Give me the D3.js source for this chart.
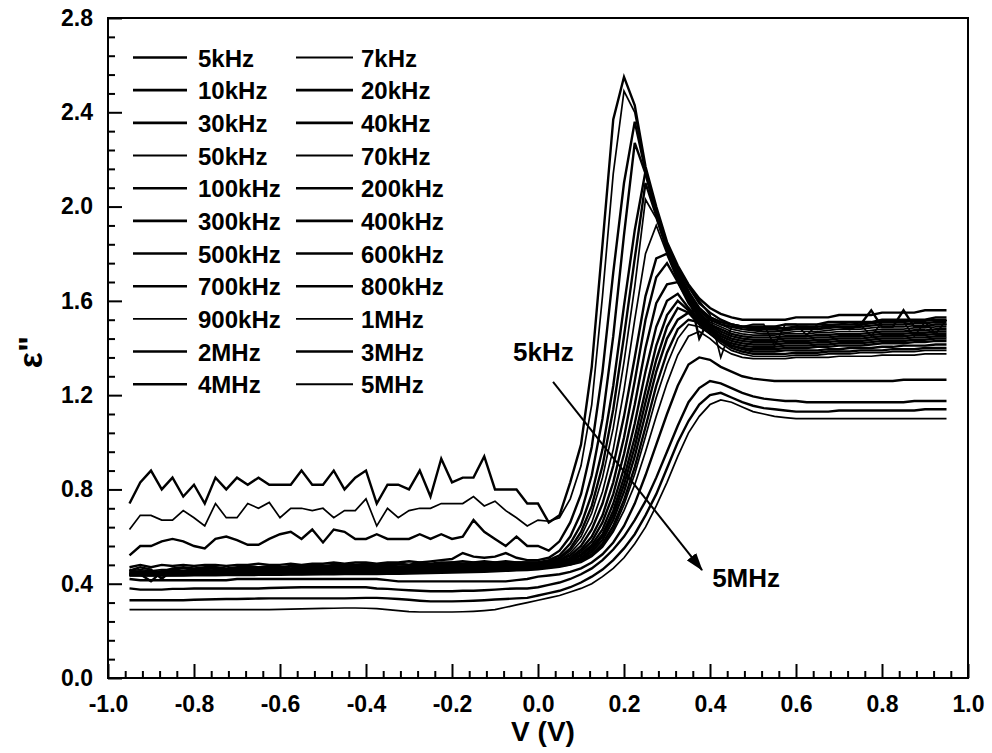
<!DOCTYPE html>
<html>
<head>
<meta charset="utf-8">
<script src="https://cdn.jsdelivr.net/npm/d3@7"></script>
<style>
  body { margin: 0; background: #fff; }
  svg text { font-family: "Liberation Sans", Arial, sans-serif; font-weight: bold; fill: #000; }
</style>
</head>
<body>
<svg id="chart" width="992" height="753"></svg>
<script>
// Bias voltage (V), shared by every frequency curve
const voltage = [-0.95,-0.925,-0.9,-0.875,-0.85,-0.825,-0.8,-0.775,-0.75,-0.725,-0.7,-0.675,-0.65,-0.625,-0.6,-0.575,-0.55,-0.525,-0.5,-0.475,-0.45,-0.425,-0.4,-0.375,-0.35,-0.325,-0.3,-0.275,-0.25,-0.225,-0.2,-0.175,-0.15,-0.125,-0.1,-0.075,-0.05,-0.025,
  0,0.025,0.05,0.075,0.1,0.125,0.15,0.175,0.2,0.225,0.25,0.275,0.3,0.325,0.35,0.375,0.4,0.425,0.45,0.475,0.5,
  0.525,0.55,0.575,0.6,0.625,0.65,0.675,0.7,0.725,0.75,0.775,0.8,0.825,0.85,0.875,0.9,0.925,0.95];

// Dielectric loss ε'' for each measuring frequency
const eps5kHz = [0.74,0.83,0.88,0.80,0.85,0.77,0.82,0.74,0.85,0.80,0.85,0.82,0.85,0.82,0.82,0.82,0.88,0.82,0.82,0.88,0.80,0.85,0.88,0.74,0.82,0.82,0.80,0.88,0.77,0.93,0.83,0.85,0.85,0.94,0.80,0.80,0.80,0.74,
  0.74,0.66,0.69,0.83,0.99,1.32,1.84,2.37,2.55,2.43,2.17,2.00,1.85,1.75,1.67,1.61,1.57,1.545,1.53,1.52,1.52,
  1.52,1.52,1.52,1.53,1.53,1.53,1.53,1.54,1.54,1.54,1.54,1.55,1.55,1.55,1.55,1.56,1.56,1.56];
const eps7kHz = [0.63,0.69,0.69,0.67,0.67,0.71,0.68,0.645,0.74,0.68,0.68,0.74,0.72,0.745,0.68,0.72,0.72,0.71,0.72,0.68,0.71,0.71,0.76,0.645,0.72,0.68,0.71,0.72,0.72,0.74,0.74,0.74,0.77,0.73,0.75,0.71,0.68,0.645,
  0.67,0.665,0.68,0.76,0.90,1.16,1.62,2.14,2.49,2.40,2.16,1.99,1.84,1.74,1.66,1.60,1.54,1.36,1.49,1.49,1.50,
  1.50,1.41,1.50,1.50,1.455,1.50,1.50,1.50,1.51,1.50,1.45,1.51,1.51,1.51,1.45,1.51,1.46,1.52];
const eps10kHz = [0.52,0.56,0.56,0.58,0.59,0.58,0.56,0.55,0.59,0.60,0.585,0.565,0.565,0.59,0.61,0.62,0.59,0.63,0.575,0.63,0.62,0.59,0.59,0.61,0.59,0.59,0.59,0.61,0.59,0.61,0.59,0.60,0.67,0.62,0.59,0.56,0.60,0.56,
  0.56,0.54,0.58,0.66,0.78,0.98,1.30,1.72,2.10,2.36,2.15,1.98,1.84,1.74,1.66,1.59,1.55,1.52,1.50,1.49,1.49,
  1.49,1.49,1.48,1.49,1.49,1.48,1.49,1.49,1.48,1.50,1.56,1.49,1.49,1.56,1.49,1.49,1.50,1.50];
const eps20kHz = [0.47,0.48,0.47,0.48,0.475,0.48,0.475,0.48,0.48,0.475,0.48,0.48,0.485,0.48,0.48,0.485,0.48,0.485,0.485,0.49,0.485,0.49,0.49,0.485,0.49,0.49,0.495,0.49,0.495,0.50,0.505,0.53,0.515,0.51,0.515,0.53,0.51,0.50,
  0.50,0.51,0.54,0.60,0.70,0.86,1.10,1.45,1.88,2.27,2.14,1.97,1.83,1.73,1.64,1.44,1.53,1.51,1.50,1.49,1.49,
  1.49,1.49,1.50,1.50,1.50,1.50,1.51,1.51,1.51,1.51,1.51,1.52,1.52,1.52,1.52,1.52,1.53,1.53];
const eps30kHz = [0.46,0.44,0.41,0.45,0.465,0.47,0.465,0.47,0.47,0.465,0.47,0.475,0.47,0.475,0.47,0.475,0.475,0.48,0.475,0.48,0.48,0.48,0.485,0.48,0.485,0.485,0.48,0.49,0.485,0.49,0.49,0.495,0.49,0.495,0.49,0.495,0.49,0.49,
  0.49,0.50,0.52,0.57,0.65,0.78,0.97,1.24,1.58,1.90,2.15,1.97,1.83,1.72,1.64,1.57,1.53,1.51,1.50,1.49,1.48,
  1.48,1.48,1.485,1.49,1.49,1.49,1.495,1.50,1.50,1.50,1.505,1.51,1.51,1.51,1.515,1.515,1.52,1.52];
const eps40kHz = [0.455,0.47,0.46,0.42,0.46,0.465,0.46,0.465,0.47,0.46,0.465,0.47,0.465,0.47,0.47,0.465,0.47,0.475,0.47,0.475,0.475,0.48,0.475,0.48,0.48,0.485,0.48,0.485,0.48,0.485,0.49,0.485,0.49,0.49,0.49,0.49,0.49,0.49,
  0.49,0.495,0.51,0.55,0.62,0.73,0.90,1.14,1.45,1.78,2.10,1.96,1.82,1.71,1.63,1.56,1.52,1.50,1.49,1.48,1.475,
  1.47,1.47,1.475,1.48,1.48,1.48,1.485,1.49,1.49,1.49,1.495,1.50,1.50,1.50,1.505,1.505,1.51,1.51];
const eps50kHz = [0.455,0.46,0.455,0.46,0.46,0.455,0.46,0.46,0.465,0.46,0.465,0.465,0.46,0.465,0.47,0.465,0.47,0.47,0.47,0.475,0.47,0.475,0.475,0.48,0.475,0.48,0.48,0.48,0.485,0.48,0.485,0.485,0.485,0.485,0.49,0.485,0.49,0.49,
  0.49,0.49,0.505,0.54,0.60,0.70,0.85,1.06,1.34,1.66,2.03,1.95,1.81,1.70,1.62,1.56,1.52,1.50,1.48,1.47,1.465,
  1.46,1.46,1.465,1.47,1.47,1.47,1.475,1.48,1.48,1.48,1.485,1.49,1.49,1.49,1.495,1.495,1.50,1.50];
const eps70kHz = [0.45,0.455,0.45,0.455,0.455,0.455,0.46,0.455,0.46,0.46,0.46,0.46,0.465,0.46,0.465,0.465,0.465,0.465,0.47,0.47,0.47,0.47,0.47,0.475,0.475,0.475,0.475,0.48,0.48,0.48,0.48,0.48,0.485,0.485,0.485,0.485,0.485,0.485,
  0.485,0.49,0.50,0.53,0.58,0.66,0.79,0.97,1.22,1.52,1.80,1.92,1.80,1.70,1.62,1.55,1.51,1.49,1.47,1.46,1.455,
  1.455,1.455,1.46,1.46,1.46,1.465,1.465,1.47,1.47,1.47,1.475,1.48,1.48,1.48,1.485,1.485,1.49,1.49];
const eps100kHz = [0.45,0.45,0.45,0.45,0.455,0.45,0.455,0.455,0.455,0.455,0.46,0.455,0.46,0.46,0.46,0.46,0.465,0.46,0.465,0.465,0.465,0.47,0.465,0.47,0.47,0.47,0.47,0.475,0.475,0.475,0.475,0.48,0.48,0.48,0.48,0.48,0.485,0.485,
  0.485,0.49,0.50,0.52,0.56,0.63,0.74,0.90,1.11,1.36,1.62,1.78,1.80,1.69,1.61,1.55,1.50,1.48,1.46,1.45,1.445,
  1.445,1.445,1.45,1.45,1.45,1.455,1.455,1.46,1.46,1.46,1.465,1.47,1.47,1.47,1.475,1.475,1.48,1.48];
const eps200kHz = [0.445,0.445,0.445,0.45,0.45,0.45,0.45,0.45,0.45,0.455,0.455,0.455,0.455,0.455,0.46,0.46,0.46,0.46,0.46,0.46,0.465,0.465,0.465,0.465,0.465,0.47,0.47,0.47,0.47,0.47,0.475,0.475,0.475,0.475,0.48,0.48,0.48,0.48,
  0.48,0.485,0.495,0.51,0.545,0.60,0.69,0.83,1.02,1.26,1.52,1.70,1.76,1.68,1.60,1.54,1.50,1.47,1.45,1.44,1.435,
  1.435,1.435,1.44,1.44,1.44,1.445,1.445,1.45,1.45,1.45,1.455,1.46,1.46,1.46,1.465,1.465,1.47,1.47];
const eps300kHz = [0.445,0.445,0.445,0.445,0.445,0.445,0.45,0.45,0.45,0.45,0.45,0.45,0.45,0.455,0.455,0.455,0.455,0.455,0.455,0.46,0.46,0.46,0.46,0.46,0.46,0.465,0.465,0.465,0.465,0.465,0.47,0.47,0.47,0.47,0.475,0.475,0.475,0.48,
  0.48,0.485,0.49,0.505,0.535,0.58,0.66,0.78,0.95,1.16,1.40,1.59,1.67,1.68,1.59,1.53,1.49,1.46,1.44,1.43,1.425,
  1.425,1.425,1.43,1.43,1.43,1.435,1.435,1.44,1.44,1.44,1.445,1.45,1.45,1.45,1.455,1.455,1.46,1.46];
const eps400kHz = [0.44,0.44,0.44,0.445,0.445,0.445,0.445,0.445,0.445,0.445,0.45,0.45,0.45,0.45,0.45,0.45,0.45,0.455,0.455,0.455,0.455,0.455,0.455,0.46,0.46,0.46,0.46,0.46,0.46,0.465,0.465,0.465,0.465,0.47,0.47,0.47,0.475,0.475,
  0.475,0.48,0.485,0.50,0.525,0.565,0.63,0.74,0.89,1.08,1.30,1.49,1.60,1.63,1.57,1.52,1.48,1.45,1.43,1.42,1.415,
  1.415,1.415,1.42,1.42,1.42,1.425,1.425,1.43,1.43,1.43,1.435,1.44,1.44,1.44,1.445,1.445,1.45,1.45];
const eps500kHz = [0.44,0.44,0.44,0.44,0.44,0.44,0.44,0.445,0.445,0.445,0.445,0.445,0.445,0.445,0.445,0.45,0.45,0.45,0.45,0.45,0.45,0.45,0.455,0.455,0.455,0.455,0.455,0.455,0.46,0.46,0.46,0.46,0.46,0.465,0.465,0.465,0.47,0.47,
  0.475,0.48,0.485,0.495,0.52,0.555,0.61,0.71,0.85,1.02,1.22,1.41,1.54,1.60,1.56,1.51,1.47,1.44,1.42,1.41,1.405,
  1.405,1.405,1.41,1.41,1.41,1.415,1.415,1.42,1.42,1.42,1.425,1.43,1.43,1.43,1.435,1.435,1.44,1.44];
const eps600kHz = [0.437,0.437,0.437,0.437,0.437,0.437,0.438,0.44,0.44,0.44,0.44,0.442,0.442,0.442,0.443,0.445,0.445,0.445,0.446,0.447,0.447,0.448,0.45,0.45,0.45,0.451,0.452,0.452,0.455,0.455,0.456,0.456,0.458,0.46,0.462,0.463,0.466,0.468,
  0.47,0.475,0.48,0.49,0.51,0.545,0.60,0.69,0.82,0.98,1.17,1.35,1.49,1.57,1.55,1.50,1.46,1.43,1.41,1.40,1.395,
  1.395,1.395,1.40,1.40,1.40,1.405,1.405,1.41,1.41,1.41,1.415,1.42,1.42,1.42,1.425,1.425,1.43,1.43];
const eps700kHz = [0.44,0.44,0.44,0.44,0.44,0.441,0.441,0.442,0.442,0.443,0.443,0.444,0.444,0.445,0.445,0.446,0.446,0.447,0.447,0.448,0.448,0.449,0.449,0.45,0.45,0.451,0.452,0.453,0.454,0.455,0.456,0.457,0.458,0.459,0.461,0.463,0.465,0.467,
  0.47,0.475,0.48,0.49,0.505,0.535,0.585,0.67,0.79,0.94,1.12,1.30,1.44,1.52,1.55,1.53,1.49,1.44,1.41,1.395,1.385,
  1.385,1.385,1.39,1.39,1.39,1.39,1.395,1.395,1.40,1.40,1.40,1.405,1.405,1.41,1.41,1.41,1.415,1.415];
const eps800kHz = [0.437,0.437,0.437,0.437,0.438,0.438,0.438,0.439,0.44,0.44,0.44,0.44,0.441,0.441,0.442,0.442,0.443,0.443,0.444,0.444,0.445,0.445,0.446,0.446,0.447,0.448,0.448,0.449,0.45,0.451,0.452,0.453,0.454,0.455,0.457,0.459,0.461,0.463,
  0.465,0.47,0.475,0.485,0.50,0.525,0.57,0.645,0.755,0.895,1.065,1.24,1.38,1.48,1.52,1.51,1.48,1.43,1.40,1.385,1.375,
  1.375,1.375,1.375,1.38,1.38,1.38,1.385,1.385,1.385,1.39,1.39,1.39,1.395,1.395,1.395,1.40,1.40,1.40];
const eps900kHz = [0.435,0.435,0.435,0.435,0.435,0.436,0.436,0.436,0.437,0.437,0.438,0.438,0.438,0.439,0.439,0.44,0.44,0.44,0.441,0.441,0.442,0.442,0.443,0.443,0.444,0.444,0.445,0.446,0.447,0.448,0.449,0.45,0.451,0.452,0.454,0.456,0.458,0.46,
  0.465,0.47,0.475,0.48,0.495,0.52,0.56,0.63,0.735,0.865,1.025,1.19,1.33,1.44,1.50,1.49,1.46,1.42,1.39,1.375,1.365,
  1.365,1.365,1.365,1.37,1.37,1.37,1.375,1.375,1.375,1.38,1.38,1.38,1.385,1.385,1.385,1.39,1.39,1.39];
const eps1MHz = [0.433,0.433,0.433,0.433,0.433,0.433,0.434,0.434,0.434,0.435,0.435,0.435,0.436,0.436,0.436,0.437,0.437,0.438,0.438,0.438,0.439,0.439,0.44,0.44,0.441,0.441,0.442,0.443,0.444,0.445,0.446,0.447,0.448,0.449,0.451,0.453,0.455,0.457,
  0.46,0.465,0.47,0.48,0.49,0.515,0.555,0.62,0.71,0.82,0.96,1.11,1.25,1.37,1.45,1.47,1.44,1.40,1.375,1.36,1.355,
  1.355,1.355,1.355,1.36,1.36,1.36,1.36,1.365,1.365,1.365,1.365,1.37,1.37,1.37,1.37,1.375,1.375,1.375];
const eps2MHz = [0.42,0.415,0.415,0.415,0.415,0.415,0.415,0.415,0.415,0.415,0.42,0.42,0.42,0.42,0.42,0.42,0.42,0.42,0.42,0.42,0.42,0.42,0.42,0.42,0.415,0.41,0.41,0.41,0.41,0.41,0.41,0.41,0.41,0.41,0.41,0.41,0.415,0.42,
  0.43,0.435,0.44,0.45,0.465,0.49,0.525,0.575,0.645,0.74,0.86,0.99,1.12,1.24,1.33,1.36,1.35,1.32,1.30,1.28,1.27,
  1.265,1.26,1.26,1.26,1.26,1.26,1.26,1.26,1.26,1.26,1.26,1.26,1.26,1.265,1.265,1.265,1.265,1.265];
const eps3MHz = [0.38,0.375,0.375,0.375,0.378,0.378,0.38,0.38,0.38,0.38,0.38,0.38,0.38,0.382,0.383,0.384,0.385,0.385,0.385,0.385,0.385,0.385,0.385,0.38,0.378,0.375,0.372,0.37,0.368,0.368,0.368,0.37,0.37,0.372,0.375,0.378,0.38,0.38,
  0.385,0.395,0.405,0.42,0.44,0.465,0.50,0.545,0.60,0.67,0.75,0.85,0.96,1.07,1.17,1.23,1.26,1.25,1.23,1.21,1.195,
  1.185,1.18,1.175,1.175,1.17,1.17,1.17,1.17,1.17,1.17,1.17,1.17,1.17,1.17,1.175,1.175,1.175,1.175];
const eps4MHz = [0.33,0.33,0.33,0.33,0.33,0.33,0.332,0.333,0.334,0.335,0.335,0.336,0.337,0.338,0.338,0.338,0.338,0.338,0.338,0.338,0.338,0.339,0.34,0.34,0.338,0.335,0.332,0.328,0.325,0.325,0.325,0.326,0.328,0.33,0.333,0.335,0.338,0.34,
  0.35,0.36,0.37,0.385,0.405,0.43,0.46,0.50,0.55,0.61,0.69,0.78,0.89,1.00,1.09,1.16,1.20,1.21,1.19,1.17,1.155,
  1.145,1.14,1.135,1.13,1.13,1.13,1.13,1.135,1.135,1.135,1.135,1.135,1.135,1.135,1.135,1.14,1.14,1.14];
const eps5MHz = [0.29,0.29,0.29,0.29,0.29,0.29,0.29,0.29,0.29,0.29,0.29,0.29,0.29,0.29,0.291,0.292,0.293,0.294,0.295,0.296,0.297,0.297,0.296,0.294,0.29,0.286,0.282,0.28,0.28,0.28,0.28,0.281,0.283,0.286,0.29,0.30,0.31,0.32,
  0.33,0.34,0.35,0.365,0.38,0.40,0.43,0.465,0.51,0.57,0.64,0.73,0.83,0.94,1.04,1.11,1.16,1.18,1.17,1.15,1.13,
  1.12,1.11,1.105,1.10,1.10,1.10,1.10,1.10,1.10,1.10,1.10,1.10,1.10,1.10,1.10,1.10,1.10,1.10];

const frequencyLabels = ["5kHz","7kHz","10kHz","20kHz","30kHz","40kHz","50kHz","70kHz","100kHz","200kHz","300kHz",
  "400kHz","500kHz","600kHz","700kHz","800kHz","900kHz","1MHz","2MHz","3MHz","4MHz","5MHz"];
const thinLabels = ["7kHz","50kHz","70kHz","900kHz","1MHz","5MHz"];
const xTickValues = [-1.0,-0.8,-0.6,-0.4,-0.2,0.0,0.2,0.4,0.6,0.8,1.0];
const yTickValues = [0.0,0.4,0.8,1.2,1.6,2.0,2.4,2.8];

const curves = [eps5kHz,eps7kHz,eps10kHz,eps20kHz,eps30kHz,eps40kHz,eps50kHz,eps70kHz,eps100kHz,eps200kHz,eps300kHz,
  eps400kHz,eps500kHz,eps600kHz,eps700kHz,eps800kHz,eps900kHz,eps1MHz,eps2MHz,eps3MHz,eps4MHz,eps5MHz];
const series = frequencyLabels.map((label, k) => ({
  label,
  values: curves[k],
  width: thinLabels.includes(label) ? 1.7 : 2.4
}));

const svg = d3.select("#chart");
const plot = { left: 108, right: 968, top: 18, bottom: 678 };
const x = d3.scaleLinear().domain([-1, 1]).range([plot.left, plot.right]);
const y = d3.scaleLinear().domain([0, 2.8]).range([plot.bottom, plot.top]);

// curves
const line = d3.line()
  .x((d, i) => x(voltage[i]))
  .y(d => y(d));
svg.append("g")
  .selectAll("path")
  .data(series)
  .join("path")
  .attr("d", d => line(d.values))
  .attr("fill", "none")
  .attr("stroke", "#000")
  .attr("stroke-width", d => d.width)
  .attr("stroke-linejoin", "miter");

// axes with inward ticks
const fmt = d => d.toFixed(1);
const xMinor = d3.range(-1, 1.0001, 0.04).filter(v => Math.abs(v * 5 - Math.round(v * 5)) > 1e-6);
const yMinor = d3.range(0, 2.8001, 0.08).filter(v => Math.abs(v / 0.4 - Math.round(v / 0.4)) > 1e-6);
const gx = svg.append("g").attr("transform", `translate(0,${plot.bottom})`)
  .call(d3.axisBottom(x).tickValues(xTickValues).tickSize(-14).tickSizeOuter(0).tickPadding(18).tickFormat(fmt));
const gxMinor = svg.append("g").attr("transform", `translate(0,${plot.bottom})`)
  .call(d3.axisBottom(x).tickValues(xMinor).tickSize(-7).tickSizeOuter(0).tickFormat(""));
const gy = svg.append("g").attr("transform", `translate(${plot.left},0)`)
  .call(d3.axisLeft(y).tickValues(yTickValues).tickSize(-14).tickSizeOuter(0).tickPadding(15).tickFormat(fmt));
const gyMinor = svg.append("g").attr("transform", `translate(${plot.left},0)`)
  .call(d3.axisLeft(y).tickValues(yMinor).tickSize(-7).tickSizeOuter(0).tickFormat(""));
[gx, gxMinor, gy, gyMinor].forEach(g => {
  g.select(".domain").remove();
  g.attr("font-family", null).attr("font-size", null);
  g.selectAll(".tick line").attr("stroke", "#000").attr("stroke-width", 2);
  g.selectAll(".tick text").style("font-size", "23px");
});

// frame
svg.append("rect")
  .attr("x", plot.left).attr("y", plot.top)
  .attr("width", plot.right - plot.left).attr("height", plot.bottom - plot.top)
  .attr("fill", "none").attr("stroke", "#000").attr("stroke-width", 2);

// axis titles
svg.append("text")
  .attr("x", 543).attr("y", 741)
  .attr("text-anchor", "middle")
  .style("font-size", "28px")
  .text("V (V)");
svg.append("text")
  .attr("transform", "translate(42,352) rotate(-90)")
  .attr("text-anchor", "middle")
  .style("font-size", "34px")
  .text("ε\"");

// legend, two columns
const legend = svg.append("g");
const legendRows = legend.selectAll("g")
  .data(series)
  .join("g")
  .attr("transform", (d, k) => `translate(${k % 2 === 0 ? 133 : 296},${57.5 + Math.floor(k / 2) * 32.67})`);
legendRows.append("line")
  .attr("x1", 0).attr("x2", (d, k) => k % 2 === 0 ? 54 : 57)
  .attr("y1", 0).attr("y2", 0)
  .attr("stroke", "#000")
  .attr("stroke-width", d => d.width + 0.2);
legendRows.append("text")
  .attr("x", 65)
  .attr("y", 9)
  .style("font-size", "24px")
  .text(d => d.label);

// frequency direction annotation
const arrowFrom = { v: 0.035, e: 1.256 };
const arrowTo = { v: 0.3815, e: 0.458 };
const notes = [
  { text: "5kHz", v: -0.058, e: 1.345 },
  { text: "5MHz", v: 0.405, e: 0.386 }
];
svg.append("defs").append("marker")
  .attr("id", "head")
  .attr("markerUnits", "userSpaceOnUse")
  .attr("markerWidth", 18).attr("markerHeight", 12)
  .attr("refX", 17).attr("refY", 6)
  .attr("orient", "auto")
  .append("path")
  .attr("d", "M0,0 L18,6 L0,12 Z")
  .attr("fill", "#000");
svg.append("line")
  .attr("x1", x(arrowFrom.v)).attr("y1", y(arrowFrom.e))
  .attr("x2", x(arrowTo.v)).attr("y2", y(arrowTo.e))
  .attr("stroke", "#000").attr("stroke-width", 2)
  .attr("marker-end", "url(#head)");
svg.append("g").selectAll("text")
  .data(notes)
  .join("text")
  .attr("x", d => x(d.v)).attr("y", d => y(d.e))
  .style("font-size", "26px")
  .text(d => d.text);
</script>
</body>
</html>
